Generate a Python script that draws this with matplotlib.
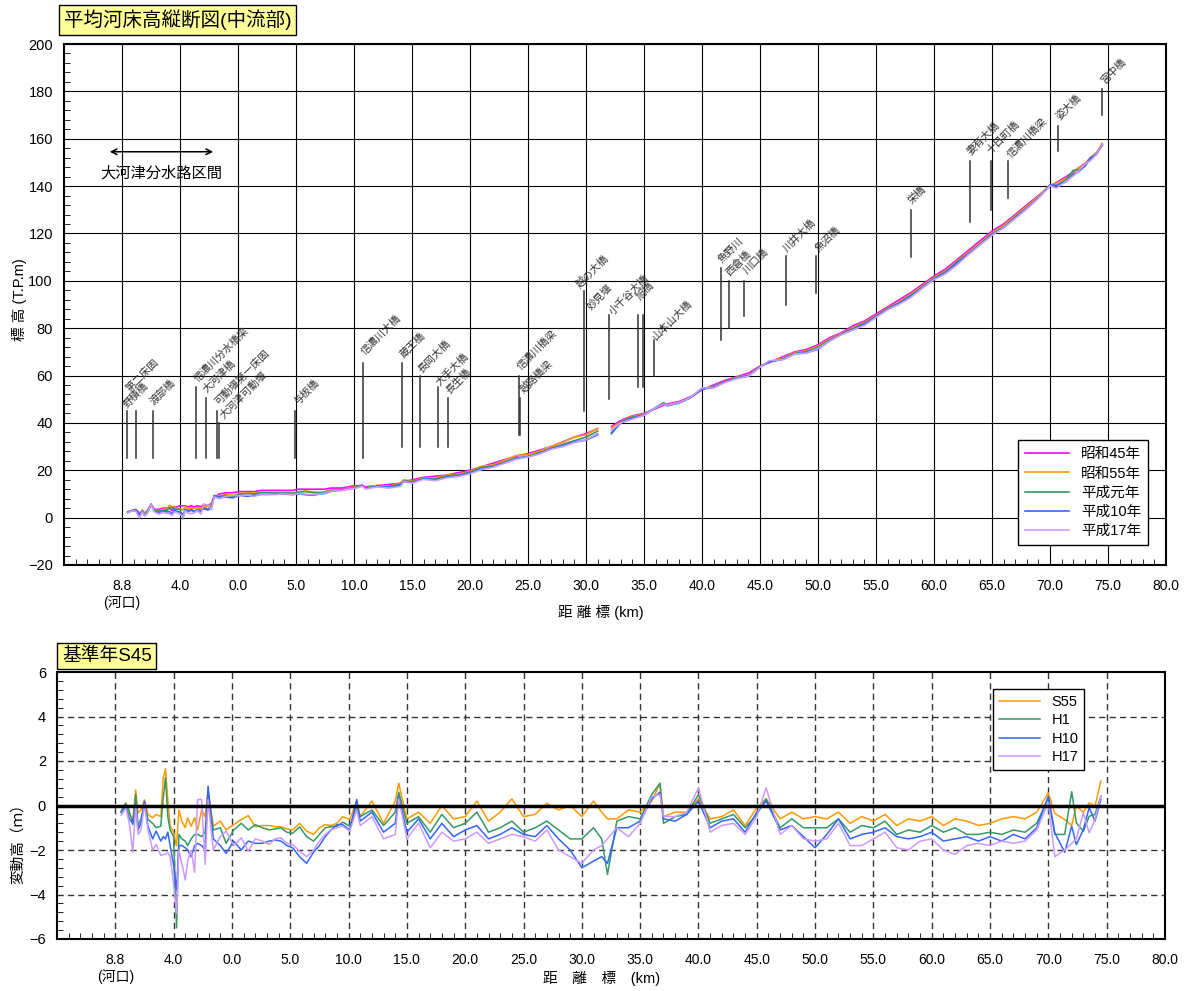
import numpy as np
import matplotlib
matplotlib.use('Agg')
from matplotlib import pyplot as plt
from matplotlib.ticker import MultipleLocator

plt.rcParams['font.family'] = ['Liberation Sans', 'Noto Sans CJK JP', 'DejaVu Sans']

# 距離標 (km)  負側は大河津分水路区間 (-10 = 8.8k河口, -5 = 4.0k)
km = [-9.5, -9.1, -8.8, -8.5, -8.25, -8.05, -7.8, -7.5, -7.2, -6.8, -6.5, -6.1, -5.9,
      -5.7, -5.5, -5.3, -5.0, -4.75, -4.55, -4.3, -4.0, -3.8, -3.5, -3.2, -2.95, -2.6, -2.3, -2.05,
      -1.6, -1.0, -0.5, 0.15, 0.8, 1.4, 2.0, 2.6, 3.2, 3.7, 4.2, 4.7,
      5.2, 5.8, 6.4, 7.0, 7.5, 8.0, 8.5, 9.0, 9.5, 10.1, 10.7,
      11, 12, 13, 14, 14.3, 15, 16, 17, 18, 19, 20, 21, 22,
      23, 24, 25, 26, 27, 28, 29, 30, 31, 31.7, 32.2, 33, 34,
      35, 36, 36.7, 37, 38, 39, 40, 41, 42, 43, 44, 45, 45.8,
      47, 48, 49, 50, 51, 52, 53, 54, 55, 56, 57, 58, 59,
      60, 61, 62, 63, 64, 65, 66, 67, 68, 69,
      70.0, 70.55, 71.4, 72.0, 72.4, 73.0, 73.5, 74.0, 74.5]

# 昭和45年 平均河床高 (T.P.m)
s45 = [2.5, 3.0, 3.5, 2.0, 2.5, 2.0, 3.0, 5.5, 3.5, 3.5, 4.0, 4.0, 4.0,
       3.0, 4.5, 4.5, 5.0, 5.0, 5.0, 4.5, 5.0, 4.5, 5.0, 4.5, 5.5, 5.0, 6.0, 8.5,
       10.0, 10.5, 10.5, 11.0, 11.0, 11.0, 11.5, 11.5, 11.5, 11.5, 11.5, 11.5,
       12.0, 12.0, 12.0, 12.0, 12.0, 12.5, 12.5, 12.5, 13.0, 13.5, 13.5,
       13.0, 13.5, 14.0, 14.5, 15.0, 16.0, 17.0, 17.5, 18.0, 19.0, 20.0, 21.5, 23.0,
       24.5, 26.0, 27.0, 28.5, 30.0, 32.0, 34.0, 35.5, 37.5, np.nan, 38.5, 41.0, 43.0,
       44.0, 46.0, 47.5, 48.0, 49.0, 51.0, 54.0, 56.0, 58.0, 59.5, 61.0, 64.0, 65.5,
       68.0, 70.0, 71.0, 73.0, 76.0, 78.0, 81.0, 83.0, 86.0, 89.0, 92.0, 95.0, 98.5,
       102.0, 105.0, 109.0, 113.0, 117.0, 121.0, 124.0, 128.0, 132.0, 136.0,
       140.0, 141.5, 144.0, 146.0, 147.5, 149.5, 152.0, 154.0, 157.0]

# 変動高 (基準年S45, m)
d_s55 = [-0.3, 0.1, -0.4, -0.6, 0.7, -0.33, -0.2, 0.25, -0.4, -0.55, -0.4, -0.5, 1.2,
         1.65, 0.27, -0.93, -1.2, -1.8, -0.2, -0.7, -1.0, -0.55, -0.93, -0.55, -1.1, -0.2, -0.5, 0.7,
         -0.93, -0.7, -1.1, -0.86, -0.63, -0.45, -0.96, -0.9, -0.9, -0.95, -0.96, -1.05,
         -1.1, -0.8, -1.15, -1.3, -1.0, -0.86, -0.9, -0.8, -0.5, -0.63, 0.2,
         -0.5, 0.2, -0.8, 0.2, 1.0, -0.6, -0.3, -0.8, 0.0, -0.6, -0.5, 0.2, -0.7,
         -0.3, 0.3, -0.5, -0.4, 0.1, -0.2, 0.0, -0.5, 0.2, -0.3, -0.6, -0.6, -0.2,
         -0.3, 0.2, 1.0, -0.5, -0.3, -0.3, 0.3, -0.6, -0.5, -0.2, -0.9, -0.1, 0.3,
         -0.6, -0.3, -0.6, -0.5, -0.6, -0.3, -0.8, -0.5, -0.7, -0.4, -0.9, -0.6, -0.7,
         -0.5, -0.9, -0.6, -0.7, -0.9, -0.8, -0.6, -0.5, -0.6, -0.3,
         0.57, -0.36, -0.63, -0.9, -0.03, -0.3, 0.12, -0.03, 1.1]
d_h1 = [-0.25, 0.1, -0.25, -0.86, 0.5, -0.9, -0.6, 0.1, -0.63, -0.8, -1.0, -0.93, 0.3,
        1.25, -0.5, -1.1, -1.4, -5.5, -1.3, -1.5, -1.6, -1.8, -1.5, -1.3, -1.3, -1.4, -1.2, 0.57,
        -1.1, -1.0, -1.7, -1.1, -0.8, -1.1, -0.86, -1.0, -1.1, -1.05, -1.0, -1.2,
        -1.25, -0.96, -1.4, -1.6, -1.3, -1.0, -0.95, -0.93, -0.75, -0.93, -0.03,
        -0.5, -0.2, -0.9, -0.3, 0.6, -0.8, -0.5, -1.2, -0.4, -1.0, -0.8, -0.3, -1.2,
        -1.0, -0.7, -1.2, -1.0, -0.7, -1.1, -1.5, -1.5, -1.0, -1.5, -3.1, -0.7, -0.5,
        -0.6, 0.5, 1.0, -0.8, -0.5, -0.4, 0.5, -0.8, -0.6, -0.4, -1.0, -0.4, 0.3,
        -1.0, -0.6, -1.0, -1.0, -1.0, -0.6, -1.2, -0.9, -1.0, -0.7, -1.3, -1.1, -1.2,
        -0.9, -1.2, -1.0, -1.3, -1.3, -1.2, -1.3, -1.1, -1.2, -0.8,
        0.35, -1.3, -1.3, 0.62, -0.78, -1.16, -0.48, -0.4, 0.42]
d_h10 = [-0.33, -0.03, -0.6, -0.8, 0.1, -1.1, -0.8, 0.2, -0.93, -1.5, -1.15, -1.6, -1.4,
         -1.5, -1.2, -1.8, -2.7, -3.8, -1.8, -1.8, -1.9, -2.0, -2.3, -1.8, -1.7, -1.8, -2.0, 0.87,
         -1.5, -1.8, -2.15, -1.6, -2.0, -1.6, -1.7, -1.7, -1.6, -1.55, -1.6, -1.8,
         -1.9, -2.3, -2.6, -2.1, -1.8, -1.4, -1.1, -0.86, -0.86, -1.1, 0.27,
         -0.7, -0.3, -1.2, -0.8, 0.4, -1.2, -0.6, -1.5, -0.8, -1.4, -1.1, -0.9, -1.5,
         -1.3, -1.0, -1.3, -1.4, -0.9, -1.5, -2.0, -2.8, -2.5, -2.3, -2.6, -1.0, -1.0,
         -0.7, 0.3, 0.6, -0.6, -0.7, -0.4, 0.2, -1.0, -0.7, -0.6, -1.2, -0.3, 0.2,
         -1.1, -0.9, -1.4, -1.9, -1.3, -0.6, -1.5, -1.3, -1.2, -1.0, -1.4, -1.5, -1.4,
         -1.2, -1.6, -1.5, -1.4, -1.6, -1.4, -1.6, -1.3, -1.5, -1.0,
         0.42, -1.23, -2.1, -0.93, -1.76, -1.08, -0.1, -0.7, 0.27]
d_h17 = [-0.45, -0.1, -0.8, -2.1, -0.03, -1.3, -1.1, 0.05, -1.1, -2.0, -1.75, -2.25, -2.2,
         -2.2, -2.1, -2.3, -3.5, -4.85, -2.0, -2.6, -3.35, -2.5, -2.0, -3.0, 0.27, 0.27, -2.65, 0.27,
         -2.0, -1.4, -1.15, -1.8, -1.45, -2.05, -1.5, -1.6, -1.75, -1.5, -1.45, -1.7,
         -1.75, -2.05, -2.3, -2.0, -1.6, -1.3, -1.1, -1.0, -0.93, -1.15, -0.2,
         -0.9, -0.5, -1.5, -1.3, 0.3, -1.5, -0.8, -1.9, -1.2, -1.6, -1.5, -1.2, -1.7,
         -1.5, -1.3, -1.4, -1.6, -1.1, -2.0, -2.3, -2.6, -2.0, -1.8, -1.5, -1.0, -1.4,
         -0.8, 0.4, 0.5, -0.5, -0.5, -0.3, 0.8, -1.2, -0.9, -0.8, -1.3, -0.5, 0.8,
         -1.3, -0.9, -1.5, -1.6, -1.5, -0.8, -1.8, -1.8, -1.5, -1.2, -1.9, -2.0, -1.6,
         -1.5, -2.0, -2.2, -1.8, -1.7, -1.8, -1.6, -1.7, -1.6, -1.1,
         0.12, -2.3, -2.0, -1.7, -1.5, -0.33, -1.23, -0.63, 0.42]

tick_pos = [-10, -5, 0, 5, 10, 15, 20, 25, 30, 35, 40, 45, 50, 55, 60, 65, 70, 75, 80]
tick_lab = ['8.8\n(河口)', '4.0', '0.0', '5.0', '10.0', '15.0', '20.0', '25.0', '30.0', '35.0',
            '40.0', '45.0', '50.0', '55.0', '60.0', '65.0', '70.0', '75.0', '80.0']

# 橋梁・堰
br_name = ['野積橋', '第二床固', '渡部橋', '信濃川分水橋梁', '大河津橋', '可動堰第一床固', '大河津可動堰',
           '与板橋', '信濃川大橋', '蔵王橋', '長岡大橋', '大手大橋', '長生橋', '信濃川橋梁', '越路橋梁',
           '越の大橋', '妙見堰', '小千谷大橋', '旭橋', '山本山大橋', '魚野川', '西倉橋', '川口橋',
           '川井大橋', '魚沼橋', '栄橋', '妻有大橋', '十日町橋', '信濃川橋梁', '姿大橋', '宮中橋']
br_km = [-9.55, -8.8, -7.35, -3.6, -2.75, -1.8, -1.65, 4.9, 10.8, 14.1, 15.7, 17.2, 18.1, 24.2, 24.35,
         29.8, 32.0, 34.5, 34.95, 35.9, 41.6, 42.3, 43.6, 47.2, 49.8, 58.0, 63.1, 64.9, 66.4, 70.7, 74.5]
br_top = [45, 45, 45, 55, 50.5, 45, 40, 45, 65.5, 65.5, 60, 55, 50.5, 60, 50.5,
          95.5, 85.5, 85.5, 85.5, 75, 105.5, 100, 100, 110.5, 110.5, 130, 150.5, 150.5, 150.5, 165.5, 181]
br_bot = [25, 25, 25, 25, 25, 25, 25, 25, 25, 30, 30, 30, 30, 35, 35,
          45, 50, 55, 55, 60, 75, 80, 85, 90, 95, 110, 125, 130, 135, 155, 170]
br_tx = [-9.45, -9.2, -7.1, -3.35, -2.55, -1.55, -1.1, 5.3, 11.1, 14.4, 16.0, 17.55, 18.4, 24.55, 24.75,
         29.6, 30.5, 32.45, 34.8, 36.2, 41.8, 42.55, 44.0, 47.45, 50.2, 58.2, 63.25, 65.05, 66.8, 71.0, 74.8]
br_ty = [45.5, 52.5, 47, 56.5, 51.8, 46.8, 41, 47, 68, 66.6, 60.2, 55, 51.3, 61.6, 51.8,
         96.4, 87, 84.8, 91.2, 74.3, 107, 101.5, 102, 111.6, 111.6, 131.6, 152.4, 152.7, 151.3, 167, 182.3]

km = np.array(km)
s45 = np.array(s45)
years = ['昭和45年', '昭和55年', '平成元年', '平成10年', '平成17年']
diffs = [np.zeros(len(km)), np.array(d_s55), np.array(d_h1), np.array(d_h10), np.array(d_h17)]
cols = ['#FF00FF', '#FF9900', '#339966', '#3366FF', '#CC99FF']

fig = plt.figure(figsize=(11.99, 9.91), dpi=100)

# ---- 縦断図 ----
ax1 = fig.add_axes([64/1199, 1-565/991, 1102/1199, 521/991])
for i in range(5):
    ax1.plot(km, s45 + diffs[i], color=cols[i], lw=1.2, label=years[i])
for i in range(len(br_name)):
    ax1.plot([br_km[i], br_km[i]], [br_bot[i], br_top[i]], color='#333333', lw=1.1)
    ax1.text(br_tx[i], br_ty[i], br_name[i], fontsize=7.5, rotation=45, rotation_mode='anchor',
             ha='left', va='bottom', color='#333333')
ax1.annotate('', xy=(-11.3, 154.5), xytext=(-1.9, 154.5),
             arrowprops=dict(arrowstyle='<->', lw=1.1, color='black'))
ax1.text(-6.6, 145.5, '大河津分水路区間', fontsize=11, ha='center', va='center')
ax1.set_xlim(-15, 80)
ax1.set_ylim(-20, 200)
ax1.set_xticks(tick_pos)
ax1.set_xticklabels(tick_lab, fontsize=10)
ax1.set_yticks(range(-20, 201, 20))
ax1.tick_params(axis='y', labelsize=10.5, length=0, pad=8)
ax1.tick_params(axis='x', length=0, pad=10)
ax1.xaxis.set_minor_locator(MultipleLocator(1))
ax1.yaxis.set_minor_locator(MultipleLocator(4))
ax1.tick_params(which='minor', direction='in', length=4, top=False, right=False)
ax1.grid(True, which='major', color='black', lw=0.8)
for s in ax1.spines.values():
    s.set_linewidth(1.5)
ax1.legend(loc='lower right', bbox_to_anchor=(0.984, 0.038), borderaxespad=0, fontsize=10.5,
           frameon=True, fancybox=False, framealpha=1, edgecolor='black', handlelength=3.0,
           labelspacing=0.35, borderpad=0.5)

fig.text(64/1199, 1-20/991, '平均河床高縦断図(中流部)', fontsize=14, ha='left', va='center',
         bbox=dict(boxstyle='square,pad=0.25', fc='#FFFF99', ec='black', lw=1))
fig.text(20/1199, 1-300/991, '標 高 (T.P.m)', rotation=90, fontsize=10.5, ha='center', va='center')
fig.text(601/1199, 1-612/991, '距 離 標 (km)', fontsize=10.5, ha='center', va='center')

# ---- 変動高 ----
ax2 = fig.add_axes([57/1199, 1-939/991, 1108/1199, 267/991])
for i in range(1, 5):
    ax2.plot(km, diffs[i], color=cols[i], lw=1.1, label=['S55', 'H1', 'H10', 'H17'][i-1])
ax2.axhline(0, color='black', lw=2.5)
ax2.set_xlim(-15, 80)
ax2.set_ylim(-6, 6)
ax2.set_xticks(tick_pos)
ax2.set_xticklabels(tick_lab, fontsize=10)
ax2.set_yticks(range(-6, 7, 2))
ax2.tick_params(axis='y', labelsize=10.5, length=0, pad=8)
ax2.tick_params(axis='x', length=0, pad=10)
ax2.xaxis.set_minor_locator(MultipleLocator(1))
ax2.yaxis.set_minor_locator(MultipleLocator(0.4))
ax2.tick_params(which='minor', direction='in', length=4, top=False, right=False)
for x in range(-10, 80, 5):
    ax2.axvline(x, color='#333333', lw=1, ls=(0, (4.5, 3)), zorder=0)
for y in [-4, -2, 2, 4]:
    ax2.axhline(y, color='#333333', lw=1, ls=(0, (4.5, 3)), zorder=0)
for s in ax2.spines.values():
    s.set_linewidth(1.5)
ax2.legend(loc='upper left', bbox_to_anchor=(0.845, 0.936), borderaxespad=0, fontsize=10.5,
           frameon=True, fancybox=False, framealpha=1, edgecolor='black', handlelength=2.8,
           labelspacing=0.3, borderpad=0.4)

fig.text(62/1199, 1-656/991, '基準年S45', fontsize=13.5, ha='left', va='center',
         bbox=dict(boxstyle='square,pad=0.25', fc='#FFFF99', ec='black', lw=1))
fig.text(0.015, 1-840/991, '変動高（ｍ）', rotation=90, fontsize=10.5, ha='center', va='center')
fig.text(602/1199, 1-978/991, '距　離　標　(km)', fontsize=10.5, ha='center', va='center')

fig.savefig('out.png', dpi=100)
